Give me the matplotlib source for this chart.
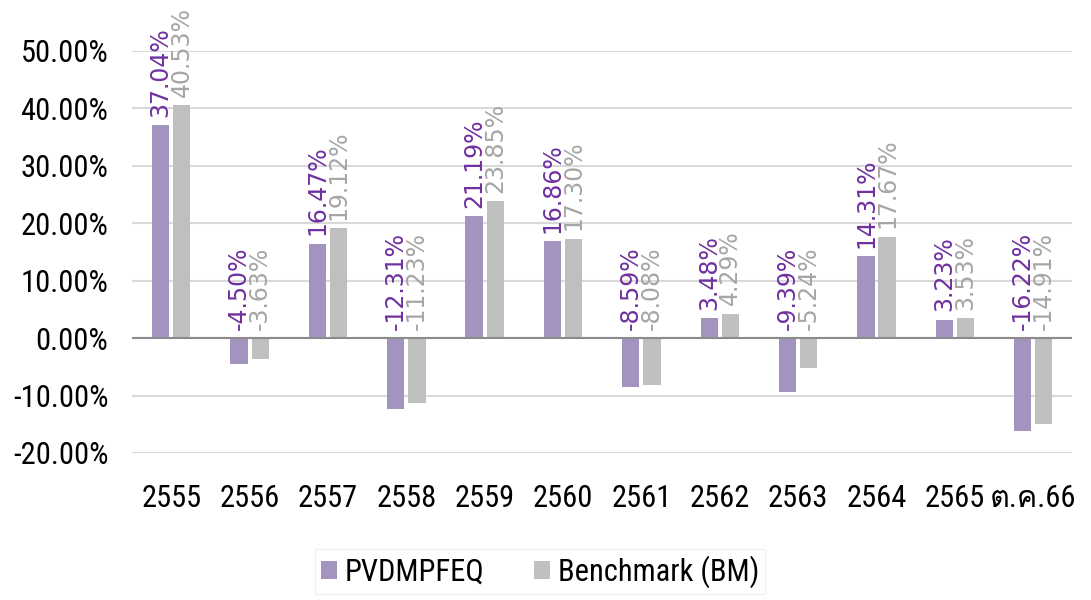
import matplotlib
matplotlib.use('Agg')
import matplotlib.pyplot as plt
import numpy as np
from matplotlib import font_manager
from matplotlib.ticker import FuncFormatter
from fontTools.ttLib import TTFont

years = ['2555', '2556', '2557', '2558', '2559', '2560', '2561', '2562', '2563', '2564', '2565', 'ต.ค.66']
fund = [37.04, -4.50, 16.47, -12.31, 21.19, 16.86, -8.59, 3.48, -9.39, 14.31, 3.23, -16.22]
bench = [40.53, -3.63, 19.12, -11.23, 23.85, 17.30, -8.08, 4.29, -5.24, 17.67, 3.53, -14.91]
names = ['PVDMPFEQ', 'Benchmark (BM)']


def thai_font():
    # look for any installed font that has Thai glyphs
    for f in font_manager.fontManager.ttflist:
        try:
            cmap = TTFont(f.fname, fontNumber=0, lazy=True).getBestCmap()
        except Exception:
            continue
        if cmap and 0x0E15 in cmap and 0x0E04 in cmap:
            return f.name
    return None


installed = set(f.name for f in font_manager.fontManager.ttflist)
fams = [n for n in ['Roboto Condensed', 'Roboto'] if n in installed]
tf = thai_font()
if tf:
    fams.append(tf)
fams.append('DejaVu Sans')
plt.rcParams['font.family'] = fams

c_fund = '#a294be'
c_bench = '#bfbfbf'
t_fund = '#7030a0'
t_bench = '#a6a6a6'

fig = plt.figure(figsize=(10.91, 6.0), dpi=100)
ax = fig.add_axes([0.121, 0.245, 0.862, 0.67])

x = np.arange(len(years))
w = 0.22
off = 0.135
ax.bar(x - off, np.array(fund) / 100, w, color=c_fund, label=names[0], zorder=3)
ax.bar(x + off, np.array(bench) / 100, w, color=c_bench, label=names[1], zorder=3)

# value labels sit on top of positive bars, on the zero line for negative ones
for i in range(len(years)):
    for v, dx, col in [(fund[i], -off, t_fund), (bench[i], off, t_bench)]:
        ax.annotate('%.2f%%' % v, (x[i] + dx, max(v, 0) / 100), xytext=(0, 6),
                    textcoords='offset points', rotation=90, ha='center', va='bottom',
                    fontsize=17, color=col, family=['DejaVu Sans'], annotation_clip=False)

ax.set_xlim(-0.5, len(years) - 0.5)
ax.set_ylim(-0.2, 0.5)
ax.set_yticks(np.arange(-0.2, 0.51, 0.1))
ax.yaxis.set_major_formatter(FuncFormatter(lambda v, p: '%.2f%%' % (v * 100)))
ax.set_xticks(x)
ax.set_xticklabels(years)
ax.tick_params(axis='y', length=0, pad=17, labelsize=22)
ax.tick_params(axis='x', length=0, pad=22, labelsize=22)
for s in ax.spines.values():
    s.set_visible(False)
ax.grid(True, axis='y', color='#d9d9d9', linewidth=1.5, zorder=0)
ax.axhline(0, color='#8c8c8c', linewidth=1.5, zorder=4)

fig.legend(loc='upper center', bbox_to_anchor=(0.495, 0.11), ncol=2, fontsize=22,
           frameon=True, edgecolor='#eeeeee', fancybox=False, handlelength=0.52,
           handleheight=0.52, handletextpad=0.25, columnspacing=1.65, borderpad=0.2)

fig.savefig('out.png', dpi=100)
